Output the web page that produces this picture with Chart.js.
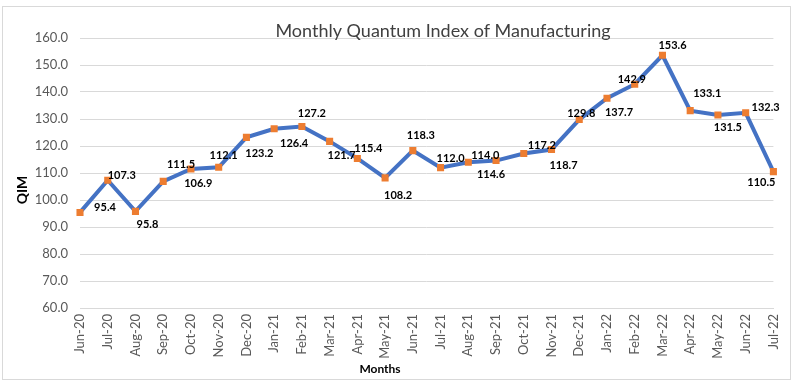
<!DOCTYPE html>
<html>
<head>
<meta charset="utf-8">
<script src="https://cdn.jsdelivr.net/npm/chart.js@4"></script>
<style>
  html, body { margin: 0; padding: 0; background: #fff; }
  #wrap { width: 795px; height: 384px; position: relative; }
</style>
</head>
<body>
<div id="wrap"><canvas id="qim"></canvas></div>
<script>
const months = ['Jun-20', 'Jul-20', 'Aug-20', 'Sep-20', 'Oct-20', 'Nov-20', 'Dec-20', 'Jan-21', 'Feb-21',
  'Mar-21', 'Apr-21', 'May-21', 'Jun-21', 'Jul-21', 'Aug-21', 'Sep-21', 'Oct-21', 'Nov-21', 'Dec-21',
  'Jan-22', 'Feb-22', 'Mar-22', 'Apr-22', 'May-22', 'Jun-22', 'Jul-22'];
const qimValues = [95.4, 107.3, 95.8, 106.9, 111.5, 112.1, 123.2, 126.4, 127.2, 121.7, 115.4, 108.2, 118.3,
  112.0, 114.0, 114.6, 117.2, 118.7, 129.8, 137.7, 142.9, 153.6, 133.1, 131.5, 132.3, 110.5];
const yTicks = [60, 70, 80, 90, 100, 110, 120, 130, 140, 150, 160];

// where each value label sits relative to its marker (dx, dy in px), like the excel placement
const labelOffsets = [[25, -5], [14, -5], [12, 13], [35, 2], [-10, -4], [5, -12], [13, 16], [20, 15],
  [10, -13], [12, 14], [11, -10], [13, 18], [8, -15], [10, -9], [17, -7], [-5, 14], [18, -8], [12, 16],
  [2, -6], [12, 14], [-3, -5], [10, -10], [17, -17], [10, 13], [20, -5], [-12, 11]];

const FONT = 'Lato, "Open Sans", sans-serif';

const frame = {
  id: 'frame',
  beforeDraw(chart) {
    const ctx = chart.ctx;
    ctx.save();
    ctx.fillStyle = '#fff';
    ctx.fillRect(0, 0, chart.width, chart.height);
    ctx.strokeStyle = '#d9d9d9';
    ctx.lineWidth = 1;
    ctx.strokeRect(2.5, 6.5, 788, 373);
    ctx.restore();
  },
  afterDraw(chart) {
    const ctx = chart.ctx;
    ctx.save();
    ctx.fillStyle = '#404040';
    ctx.font = '18px ' + FONT;
    ctx.textAlign = 'center';
    ctx.textBaseline = 'middle';
    ctx.fillText('Monthly Quantum Index of Manufacturing', 443, 31);

    ctx.fillStyle = '#000';
    ctx.font = 'bold 12px ' + FONT;
    ctx.fillText('Months', 380, 369);

    ctx.translate(22, 190);
    ctx.rotate(-Math.PI / 2);
    ctx.font = 'bold 14px ' + FONT;
    ctx.fillText('QIM', 0, 0);
    ctx.restore();
  }
};

const valueLabels = {
  id: 'valueLabels',
  afterDatasetsDraw(chart) {
    const ctx = chart.ctx;
    const meta = chart.getDatasetMeta(0);
    ctx.save();
    ctx.fillStyle = '#000';
    ctx.font = 'bold 11px ' + FONT;
    ctx.textAlign = 'center';
    ctx.textBaseline = 'middle';
    meta.data.forEach((pt, i) => {
      const [dx, dy] = labelOffsets[i];
      ctx.fillText(qimValues[i].toFixed(1), pt.x + dx, pt.y + dy);
    });
    ctx.restore();
  }
};

new Chart(document.getElementById('qim'), {
  type: 'line',
  data: {
    labels: months,
    datasets: [{
      data: qimValues,
      borderColor: '#4472C4',
      borderWidth: 4,
      tension: 0,
      pointStyle: 'rect',
      pointRadius: 5,
      pointHoverRadius: 5,
      pointBackgroundColor: '#ED7D31',
      pointBorderColor: '#ED7D31',
      pointBorderWidth: 0
    }]
  },
  options: {
    responsive: true,
    maintainAspectRatio: false,
    animation: false,
    layout: { padding: { top: 38, right: 12, left: 0, bottom: 0 } },
    plugins: {
      legend: { display: false },
      title: { display: false },
      tooltip: { enabled: false }
    },
    scales: {
      x: {
        offset: false,
        grid: { display: false, drawTicks: false },
        border: { display: true, color: '#d9d9d9' },
        ticks: {
          minRotation: 90,
          maxRotation: 90,
          autoSkip: false,
          padding: 6,
          color: '#595959',
          font: { family: FONT, size: 13 }
        },
        afterFit(axis) { axis.height = 76; }
      },
      y: {
        min: 60,
        max: 160,
        afterBuildTicks(axis) { axis.ticks = yTicks.map(v => ({ value: v })); },
        grid: { color: '#d9d9d9', drawTicks: false },
        border: { display: false },
        ticks: {
          padding: 12,
          color: '#595959',
          font: { family: FONT, size: 13 },
          callback: v => Number(v).toFixed(1)
        },
        afterFit(axis) { axis.width = 80; }
      }
    }
  },
  plugins: [frame, valueLabels]
});
</script>
</body>
</html>
